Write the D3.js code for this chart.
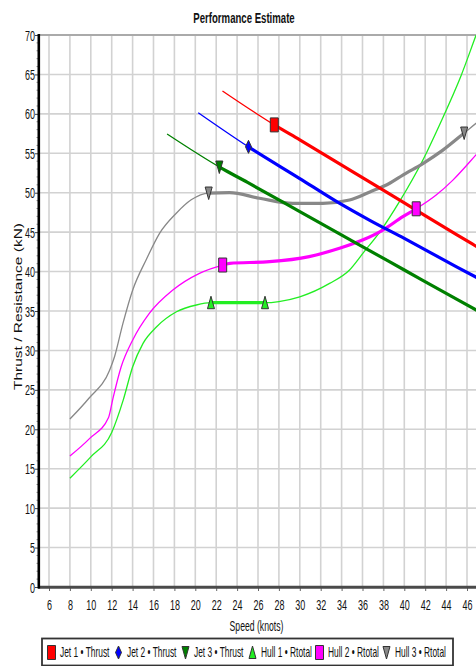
<!DOCTYPE html>
<html><head><meta charset="utf-8">
<script src="https://cdn.jsdelivr.net/npm/d3@7"></script>
<style>
body{margin:0;background:#fff;overflow:hidden}
svg{display:block}
text{font-family:"Liberation Sans",Arial,Helvetica,sans-serif;fill:#111}
</style>
</head><body>
<svg id="c" width="476" height="666"></svg>
<script>
// ---------- data ----------
const chartTitle = "Performance Estimate";
const xTitle = "Speed (knots)";
const yTitle = "Thrust / Resistance (kN)";
const xTickValues = [6,8,10,12,14,16,18,20,22,24,26,28,30,32,34,36,38,40,42,44,46];
const xGridValues = [6,8,10,12,14,16,18,20,22,24,26,28,30,32,34,36,38,40,42,44,46,48];
const yTickValues = [0,5,10,15,20,25,30,35,40,45,50,55,60,65,70];

const seriesNames = ["Jet 1 • Thrust","Jet 2 • Thrust","Jet 3 • Thrust","Hull 1 • Rtotal","Hull 2 • Rtotal","Hull 3 • Rtotal"];
const seriesColors = ["#ff0000","#0000ff","#008000","#22ee22","#ff00ff","#888888"];
const seriesSymbols = ["square","diamond","triDown","triUp","square","triDown"];

const jet1Speed = [22.6, 27.56, 30, 35, 40, 45, 48];
const jet1Force = [62.9, 58.6, 56.7, 52.7, 48.7, 44.7, 42.3];
const jet2Speed = [20.28, 25.09, 30, 33.5, 36.7, 40, 45, 48];
const jet2Force = [60.15, 55.82, 51.8, 48.9, 46.5, 44.2, 40.6, 38.5];
const jet3Speed = [17.3, 22.3, 25, 30, 35, 40, 45, 48];
const jet3Force = [57.44, 53.26, 51.3, 47.6, 43.9, 40.2, 36.5, 34.3];
const hull1Speed = [8, 10, 12, 13.1, 14, 15, 16.3, 18.2, 20.1, 21.5, 24, 26.67, 28, 30, 32.85, 34.76, 36.03, 37.8, 39.55, 41.78, 43.37, 45.45, 46.82, 48];
const hull1Force = [13.8, 16.5, 19.6, 23.7, 27.9, 30.9, 33.0, 34.9, 35.76, 36.05, 36.05, 36.05, 36.2, 36.8, 38.5, 40.2, 42.3, 45.3, 48.9, 54.15, 58.6, 64.9, 69.8, 74];
const hull2Speed = [8, 9.9, 11.7, 12.1, 12.9, 14.0, 15.6, 17.85, 20.4, 22.62, 23.3, 27.1, 30.9, 33.8, 36.0, 37.95, 39.86, 41.14, 43.05, 44.65, 46.86, 48];
const hull2Force = [16.6, 18.85, 21.5, 23.8, 27.9, 31.3, 34.7, 37.66, 39.78, 40.83, 41.05, 41.25, 41.9, 42.95, 44.0, 45.27, 46.96, 47.96, 49.7, 51.6, 54.8, 56.5];
const hull3Speed = [8, 9.8, 11.8, 12.27, 13.07, 14.02, 15.3, 16.58, 18.18, 19.61, 21.28, 23.28, 26.15, 29.34, 32.2, 34.76, 36.7, 38.6, 39.86, 41.78, 43.69, 45.73, 46.86, 48];
const hull3Force = [21.3, 23.9, 27.5, 29.2, 33.4, 37.7, 41.5, 44.85, 47.4, 49.1, 49.96, 50.0, 49.3, 48.66, 48.66, 49.08, 50.1, 51.2, 52.24, 53.7, 55.4, 57.57, 58.8, 60];

// speed range drawn as heavy line, and marker speeds
const heavyFrom = [27.56, 25.09, 22.3, 21.5, 22.62, 21.28];
const heavyTo   = [48, 48, 48, 26.67, 41.14, 45.73];
const markerSpeeds = [[27.56],[25.09],[22.3],[21.5,26.67],[22.62,41.14],[21.28,45.73]];

const speeds = [jet1Speed, jet2Speed, jet3Speed, hull1Speed, hull2Speed, hull3Speed];
const forces = [jet1Force, jet2Force, jet3Force, hull1Force, hull2Force, hull3Force];

// ---------- drawing ----------
const SX = 0.62; // horizontal text squeeze
const svg = d3.select("#c");
const x = d3.scaleLinear().domain([5, 48]).range([38.55, 487.9]);
const y = d3.scaleLinear().domain([0, 70]).range([587, 35]);

// title
svg.append("text").attr("transform", `translate(244,23) scale(${SX},1)`)
  .attr("text-anchor","middle").style("font-size","15.5px").style("font-weight","bold").text(chartTitle);

// grid
const grid = svg.append("g");
grid.selectAll("line.v").data(xGridValues).join("line")
  .attr("x1", d=>x(d)).attr("x2", d=>x(d)).attr("y1", y(70)).attr("y2", y(0))
  .attr("stroke","#d2d2d2").attr("stroke-width",1.6);
grid.selectAll("line.h").data(yTickValues.filter(d=>d>0 && d<70)).join("line")
  .attr("x1", x(5)).attr("x2", 476).attr("y1", d=>y(d)).attr("y2", d=>y(d))
  .attr("stroke","#d2d2d2").attr("stroke-width",1.6);
// top border
svg.append("line").attr("x1", x(5)).attr("x2", 476).attr("y1", y(70)).attr("y2", y(70))
  .attr("stroke","#aaaaaa").attr("stroke-width",2);

// clip
const defs = svg.append("defs");
defs.append("clipPath").attr("id","plotclip").append("rect")
  .attr("x", x(5)).attr("y", y(70)).attr("width", x(48)-x(5)).attr("height", y(0)-y(70));
seriesNames.forEach((n,i)=>{
  defs.append("clipPath").attr("id","hv"+i).append("rect")
    .attr("x", x(heavyFrom[i])).attr("y", y(70)).attr("width", x(heavyTo[i])-x(heavyFrom[i])).attr("height", y(0)-y(70));
});

const line = d3.line().x(d=>x(d[0])).y(d=>y(d[1])).curve(d3.curveMonotoneX);
const plot = svg.append("g").attr("clip-path","url(#plotclip)");
const drawOrder = [3,4,5,2,1,0];
drawOrder.forEach(i=>{
  const pts = speeds[i].map((s,k)=>[s, forces[i][k]]);
  plot.append("path").attr("d", line(pts)).attr("fill","none")
    .attr("stroke", seriesColors[i]).attr("stroke-width",1.3);
  plot.append("g").attr("clip-path",`url(#hv${i})`).append("path").attr("d", line(pts)).attr("fill","none")
    .attr("stroke", seriesColors[i]).attr("stroke-width",3.2);
});

function symbolPath(kind){
  if(kind==="square") return "M-4,-7H4V7H-4Z";
  if(kind==="diamond") return "M0,-6.5L3,0L0,6.5L-3,0Z";
  if(kind==="triDown") return "M-3.5,-6H3.5L0,6.5Z";
  if(kind==="triUp") return "M0,-6.5L3.5,6H-3.5Z";
}
function interp(i, s){
  const xs = speeds[i], ys = forces[i];
  for(let k=0;k<xs.length-1;k++){ if(s>=xs[k] && s<=xs[k+1]){ const t=(s-xs[k])/(xs[k+1]-xs[k]); return ys[k]+t*(ys[k+1]-ys[k]); } }
  return ys[ys.length-1];
}
const mk = svg.append("g");
drawOrder.forEach(i=>{
  markerSpeeds[i].forEach(s=>{
    mk.append("path").attr("d", symbolPath(seriesSymbols[i]))
      .attr("transform", `translate(${x(s)},${y(interp(i,s))})`)
      .attr("fill", seriesColors[i]).attr("stroke","#333").attr("stroke-width",1);
  });
});

// axes
const yAxis = svg.append("g").attr("transform", `translate(${39},0)`)
  .call(d3.axisLeft(y).tickValues(yTickValues).tickSize(4).tickPadding(0));
yAxis.select(".domain").remove();
yAxis.selectAll(".tick line").attr("stroke","#444");
yAxis.selectAll(".tick text").attr("x", -4/SX).attr("y", 5).attr("dy", 0)
  .attr("transform", `scale(${SX},1)`).style("font-size","14.5px").attr("fill","#222");
// minor ticks
svg.append("g").selectAll("line").data(d3.range(0,71).filter(d=>d%5!==0)).join("line")
  .attr("x1", 36.5).attr("x2", 39).attr("y1", d=>y(d)).attr("y2", d=>y(d)).attr("stroke","#777").attr("stroke-width",0.8);

const xAxis = svg.append("g").attr("transform", `translate(0,${587})`)
  .call(d3.axisBottom(x).tickValues(xTickValues).tickSize(4).tickPadding(0).tickFormat(d3.format("d")));
xAxis.select(".domain").remove();
xAxis.selectAll(".tick line").attr("stroke","#666");
xAxis.selectAll(".tick text").attr("y", 23.5).attr("dy", 0)
  .attr("transform", `scale(${SX},1)`).style("font-size","14.5px").attr("fill","#222");

svg.append("line").attr("x1", 38).attr("x2", 476).attr("y1", 587.3).attr("y2", 587.3)
  .attr("stroke","#4a4a4a").attr("stroke-width",3);
svg.append("line").attr("x1", 38.8).attr("x2", 38.8).attr("y1", 34).attr("y2", 588.5)
  .attr("stroke","#000").attr("stroke-width",2.6);

// axis titles
svg.append("text").attr("transform", `translate(256.5,630.5) scale(${SX},1)`)
  .attr("text-anchor","middle").style("font-size","14px").text(xTitle);
svg.append("text").attr("transform", `translate(21.5,306.5) scale(0.66,1) rotate(-90)`)
  .attr("text-anchor","middle").style("font-size","15.5px").text(yTitle);

// legend
const lg = svg.append("g");
lg.append("rect").attr("x",42).attr("y",638.5).attr("width",411).attr("height",27).attr("fill","#fff")
  .attr("stroke","#333").attr("stroke-width",1.8);
seriesNames.forEach((n,i)=>{
  const cx = 48 + 67*i;
  lg.append("path").attr("d", symbolPath(seriesSymbols[i]))
    .attr("transform", `translate(${cx+3.5},652.5)`)
    .attr("fill", seriesColors[i]).attr("stroke","#333").attr("stroke-width",1);
  const t = lg.append("text").attr("transform", `translate(${cx+12},657) scale(0.6,1)`)
    .style("font-size","14px").text(n);
  const w = t.node().getComputedTextLength();
  if (w*0.6 > 51) t.attr("transform", `translate(${cx+12},657) scale(${51/w},1)`);
});
</script>
</body></html>
